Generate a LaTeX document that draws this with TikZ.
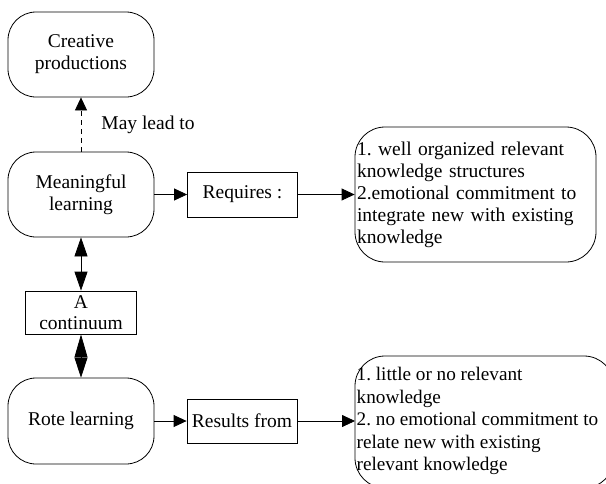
\documentclass[tikz,border=0pt]{standalone}
\usepackage{fontspec}
\setmainfont{Liberation Serif}
\usetikzlibrary{arrows.meta}
\frenchspacing
\begin{document}
\begin{tikzpicture}[x=1pt,y=-1pt,
  txt/.style={font=\fontsize{19.5}{22}\selectfont},
  rbox/.style={draw, rounded corners=28pt, minimum width=146pt, minimum height=85pt, align=center, txt, line width=0.8pt},
  sbox/.style={draw, align=center, txt, inner sep=0pt, line width=0.8pt},
  bigbox/.style={draw, rounded corners=30pt, align=left, txt, inner xsep=2pt, inner ysep=0pt, line width=0.8pt},
  arr/.style={line width=0.8pt, -{Triangle[length=13pt,width=12pt]}},
  darr/.style={line width=0.8pt, {Triangle[length=19pt,width=13pt]}-{Triangle[length=19pt,width=13pt]}},
  darrb/.style={line width=0.8pt, {Triangle[length=23pt,width=13pt]}-{Triangle[length=20pt,width=13pt]}}
]
\useasboundingbox (0,0) rectangle (606,483);
\clip (0,0) rectangle (606,483);

\node[rbox] (cp) at (81,54.5) {Creative\\productions};
\node[rbox] (ml) at (81,194.5) {Meaningful\\learning};
\node[rbox, minimum height=86pt] (rl) at (81,421) {Rote learning};
\node[sbox, minimum width=111pt, minimum height=43pt, font=\fontsize{19.5}{21}\selectfont] (ac) at (81,312.5) {A\\continuum};
\node[sbox, minimum width=110pt, minimum height=45pt] (rq) at (242.5,194.5) {Requires :};
\node[sbox, minimum width=110pt, minimum height=44pt] (rf) at (242,421) {Results from};
\node[bigbox, text width=237pt, minimum height=135pt] (b1) at (475.5,194.5)
  {1. well organized relevant\\knowledge structures\\2.emotional commitment to\\integrate new with existing\\knowledge};
\draw[line width=0.8pt, rounded corners=30pt] (355,356) rectangle (614,488);
\node[txt, font=\fontsize{19.2}{22.5}\selectfont, align=left, anchor=west, inner xsep=1.5pt, inner ysep=0pt] (b2) at (355,421)
  {1. little or no relevant\\knowledge\\2. no emotional commitment to\\relate new with existing\\relevant knowledge};

\node[txt] (mlt) at (148,125) {May lead to};

\draw[arr, dash pattern=on 5pt off 4pt] (ml.north) -- (cp.south);
\draw[arr] (ml.east) -- (rq.west);
\draw[arr] (rq.east) -- (b1.west);
\draw[darr] (ml.south) -- (ac.north);
\draw[darrb] (ac.south) -- (rl.north);
\draw[arr] (rl.east) -- (rf.west);
\draw[arr] (rf.east) -- (b2.west);
\end{tikzpicture}
\end{document}
